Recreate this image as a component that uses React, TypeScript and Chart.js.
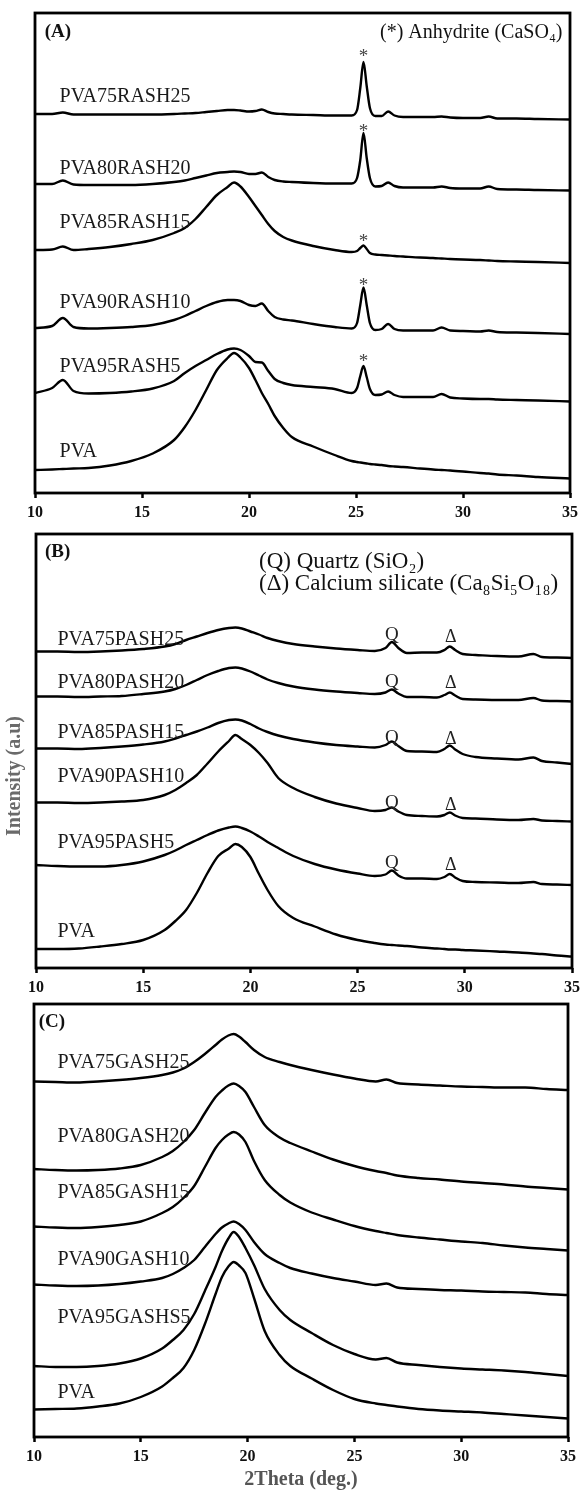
import React, { useEffect, useRef } from "react";
import { Chart, registerables } from "chart.js";

Chart.register(...registerables);

// ---------------- Panel A : RASH ----------------
const xA = [10, 10.8, 11.3, 11.8, 12.5, 13.5, 14.5, 15.5, 16.5, 17, 17.5, 18, 18.5, 19, 19.3, 19.6, 20, 20.3, 20.6, 20.9, 21.2, 21.6, 22, 23, 24, 24.8, 25.05, 25.2, 25.35, 25.5, 25.65, 25.9, 26.2, 26.5, 26.8, 27.2, 28, 28.6, 29, 29.4, 30, 30.8, 31.2, 31.6, 32.5, 33.5, 35];
const rash25 = [379, 379, 380.5, 378.5, 378.5, 378.5, 378.5, 378.5, 379, 379.5, 380, 381, 382, 383, 383, 382.5, 381.5, 382, 383.5, 381, 379.5, 379, 378.5, 378, 377.5, 377.5, 383, 405, 431, 407, 385, 377, 377, 381.5, 377.5, 376, 376, 376, 376.5, 375.5, 375, 375, 376.5, 374.5, 374.5, 374, 373.5];
const rash20 = [309, 309, 312.5, 308.5, 308, 308, 308, 309, 311, 312.5, 315, 317.5, 320, 321, 321.5, 321, 319, 319, 320.5, 316, 313, 311.5, 311, 310, 309.5, 309.5, 315, 333, 360, 335, 315, 306.5, 307, 310.5, 307, 305.5, 305.5, 305.5, 306.5, 305, 304.5, 304.5, 306.5, 304, 303.5, 303, 302.5];
const rash15 = [243, 243.5, 246.5, 243, 244, 246, 249, 253, 260, 265, 274, 286, 298, 306, 310.5, 306.5, 296, 287, 278, 269, 262, 256, 252.5, 247, 243, 241, 242, 245, 247.5, 244, 240, 238.5, 238, 237.5, 237, 236.5, 235.5, 235, 234.5, 234, 233.5, 233, 232.5, 232, 231.5, 231, 230];
const rash10 = [165, 167, 175, 166, 164.5, 165, 166, 168, 173, 177, 182, 187, 191, 193, 193, 192, 188, 187, 189.5, 182, 176, 173.5, 172.5, 169, 166, 164.5, 170, 188, 205.5, 188, 170, 163, 164, 169, 164, 162.5, 162.5, 162.5, 165.5, 162.5, 162, 161.5, 162.5, 161, 160.5, 160, 159];
const rash5 = [100, 105, 113, 102, 99.5, 100, 101.5, 104.5, 112, 120, 127, 133, 139, 143.5, 144.5, 143, 137, 131, 130.5, 122, 114, 110, 108, 106, 104, 100, 105, 117, 127, 116, 104, 98, 98.5, 101.5, 98, 96, 96, 96, 99, 95.5, 94.5, 94, 94, 93.5, 93, 92.5, 91.5];
const pvaA = [23, 23.5, 24, 24.5, 25, 27.5, 32, 39.5, 53, 66, 83, 103, 123, 135, 140, 135.5, 125, 113, 100, 89, 77, 65, 56, 46.5, 38, 32, 31, 30.5, 30, 29.5, 29, 28.5, 28, 27, 26.5, 26, 24.5, 23.5, 23, 22.5, 21.5, 20, 19.5, 18.5, 17.5, 16, 14.5];
const namesA = ["PVA75RASH25", "PVA80RASH20", "PVA85RASH15", "PVA90RASH10", "PVA95RASH5", "PVA"];
const labelYA = [396, 324, 270, 190, 126, 41];
const starYA = [436, 361, 251, 207, 131];
const starXA = 25.35;

// ---------------- Panel B : PASH ----------------
const xB = [10, 11, 12, 13, 14, 15, 16, 16.5, 17, 17.5, 18, 18.5, 19, 19.3, 19.6, 20, 20.4, 20.8, 21.3, 22, 23, 24, 25, 25.8, 26.3, 26.6, 26.9, 27.3, 28, 28.7, 29.05, 29.3, 29.55, 29.9, 30.5, 31.5, 32.5, 33.2, 33.6, 34.3, 35];
const pash25 = [316.5, 316.5, 316, 316.5, 317.5, 319, 321.5, 324, 328, 331.5, 335, 338, 340, 340.5, 339.5, 336.5, 333.5, 330, 327, 324, 321.5, 319.5, 318, 317, 320, 326, 320, 315, 315.5, 315.5, 318, 321.5, 318, 314, 313, 312, 311.5, 314, 311, 310.5, 310];
const pash20 = [271.5, 271.5, 271, 271.5, 272, 274, 276.5, 279, 283, 288, 293, 297, 300, 300.5, 299.5, 296.5, 292.5, 288.5, 285, 281.5, 278.5, 276.5, 275, 274, 275.5, 278.5, 274.5, 271, 271, 270.5, 273, 275.5, 272.5, 269, 268.5, 268, 268, 270, 267.5, 267, 266.5];
const pash15 = [219.5, 219.5, 219, 220, 221.5, 223.5, 226.5, 229.5, 233, 236.5, 240.5, 245, 248, 248.5, 247.5, 244, 239.5, 236, 232.5, 229, 225.5, 223, 221.5, 220.5, 223, 226.5, 222, 217, 216.5, 216, 219, 222.5, 218.5, 214, 211, 209.5, 208.5, 210.5, 207, 205.5, 204];
const pash10 = [165.5, 165.5, 165, 165.5, 166.5, 168, 173, 178, 185, 193, 204.5, 216.5, 227, 233, 229, 223, 215, 205, 190, 180, 171, 164.5, 160, 157, 158, 160.5, 156.5, 153, 152, 151.5, 153, 155.5, 152.5, 150, 149.5, 148.5, 148, 149, 147.5, 147, 146.5];
const pash5 = [103, 102, 101.5, 101.5, 103, 106.5, 113, 117.5, 123, 128, 133, 137.5, 140.5, 141.5, 140, 136.5, 131.5, 126, 120, 112, 104, 98.5, 94.5, 92, 93.5, 97.5, 92.5, 89.5, 89.5, 89, 91, 94, 90.5, 87, 86, 85.5, 85, 86, 84, 83.5, 83];
const pvaB = [19, 19, 19.5, 21.5, 24, 28, 38, 47, 58, 75, 95, 112, 119.5, 124, 121, 111, 94, 78, 62, 50, 41.5, 33.5, 28, 25, 23.5, 23, 22.5, 22, 20.5, 19.5, 19, 18.5, 18.5, 18, 17.5, 16.5, 15.5, 14.5, 14, 12.5, 11.5];
const namesB = ["PVA75PASH25", "PVA80PASH20", "PVA85PASH15", "PVA90PASH10", "PVA95PASH5", "PVA"];
const labelYB = [328, 285, 235, 191, 125, 36];
const quartzYB = [333, 286, 230, 165, 105];
const silicateYB = [331, 285, 229, 163, 103];
const quartzX = 26.6;
const silicateX = 29.35;

// ---------------- Panel C : GASH ----------------
const xC = [10, 11, 12, 13, 14, 15, 16, 16.5, 17, 17.5, 18, 18.5, 18.8, 19.1, 19.35, 19.6, 19.9, 20.3, 20.8, 21.5, 22, 23, 24, 25, 26, 26.5, 27, 28, 29, 30, 31, 32, 33, 34, 35];
const gash25 = [355.5, 355, 354.5, 355.5, 357, 359, 362, 364.5, 368.5, 375, 383, 392, 397.5, 401.5, 403, 400.5, 395, 387, 380, 375, 372, 367, 362.5, 358.5, 355.5, 357.5, 354, 352.5, 351.5, 350.5, 350, 349.5, 349.5, 348, 347];
const gash20 = [268, 267, 266.5, 267, 268.5, 272, 280, 286, 295, 307, 324, 340, 346.5, 351.5, 353.5, 351, 345, 330, 312, 299.5, 294, 285.5, 277.5, 271, 266, 264, 261.5, 259, 257.5, 255.5, 254, 252.5, 250.5, 249, 247.5];
const gash15 = [210.5, 209.5, 209, 210, 212, 215.5, 224, 230, 239, 251, 270, 289, 297, 302.5, 305, 302.5, 295, 276, 257, 242, 234.5, 224.5, 217.5, 211, 206, 204, 202, 199.5, 197.5, 195.5, 194, 191.5, 189.5, 188, 186.5];
const gash10 = [152.5, 151.5, 151, 151.5, 153, 155.5, 159, 163, 169, 177, 190, 203, 209.5, 213.5, 215.5, 213, 207, 195, 183, 174, 169, 163.5, 159, 155.5, 152, 153.5, 149.5, 148, 147, 146.5, 145.5, 145, 144.5, 143, 142];
const gash5 = [71, 70, 70, 71, 73.5, 78.5, 88.5, 97, 107, 123, 146, 170, 186, 198.5, 205, 200, 189, 172, 148, 127, 117, 104, 92, 83, 77.5, 79, 74.5, 72, 70, 68.5, 67.5, 66.5, 65, 63, 61];
const pvaC = [27.5, 28, 28.5, 30.5, 33.5, 40, 50.5, 59, 69, 87, 113, 143, 160, 170.5, 175, 171.5, 164, 139, 106, 82, 71, 58.5, 47, 38, 33.5, 32, 30.5, 28, 26.5, 25.5, 24.5, 23, 21.5, 20, 18.5];
const namesC = ["PVA75GASH25", "PVA80GASH20", "PVA85GASH15", "PVA90GASH10", "PVA95GASHS5", "PVA"];
const labelYC = [374, 300, 244, 177, 119, 44];

// ---------------- shared text ----------------
const xTickValues = [10, 15, 20, 25, 30, 35];
const xAxisTitle = "2Theta (deg.)";
const yAxisTitle = "Intensity (a.u)";

type TextItem = { text: string; x: number; y: number; font: string; color?: string; align?: CanvasTextAlign };

type PanelSpec = {
  xs: number[];
  series: number[][];
  yMax: number;
  texts: TextItem[];
  top: number;
  height: number;
  padding: { left: number; right: number; top: number; bottom: number };
  xHeight: number;
  yTitle?: string;
  yWidth?: number;
  xTitle?: string;
};

const SERIF = "'Liberation Serif', 'Times New Roman', serif";
const labelFont = `20px ${SERIF}`;
const letterFont = `bold 19px ${SERIF}`;

function curveLabels(names: string[], ys: number[], x: number): TextItem[] {
  return names.map((n, i) => ({ text: n, x, y: ys[i], font: labelFont, color: "#1a1a1a" }));
}

function markers(sym: string, x: number, ys: number[], font: string, color: string): TextItem[] {
  return ys.map((y) => ({ text: sym, x, y, font, color, align: "center" as CanvasTextAlign }));
}

const panels: PanelSpec[] = [
  {
    xs: xA,
    series: [rash25, rash20, rash15, rash10, rash5, pvaA],
    yMax: 480,
    top: 0,
    height: 530,
    padding: { left: 35, right: 15, top: 13, bottom: 7 },
    xHeight: 30,
    texts: [
      ...curveLabels(namesA, labelYA, 11.15),
      ...markers("*", starXA, starYA, `19px ${SERIF}`, "#444"),
      { text: "(A)", x: 10.45, y: 461, font: letterFont },
      { text: "(*) Anhydrite (CaSO\u2084)", x: 34.65, y: 460, font: `20px ${SERIF}`, align: "right" },
    ],
  },
  {
    xs: xB,
    series: [pash25, pash20, pash15, pash10, pash5, pvaB],
    yMax: 434,
    top: 530,
    height: 470,
    padding: { left: 0, right: 13, top: 4, bottom: 2 },
    xHeight: 30,
    yTitle: yAxisTitle,
    yWidth: 36,
    texts: [
      ...curveLabels(namesB, labelYB, 11.0),
      ...markers("Q", quartzX, quartzYB, `19px ${SERIF}`, "#222"),
      ...markers("\u0394", silicateX, silicateYB, `18px ${SERIF}`, "#222"),
      { text: "(B)", x: 10.42, y: 416, font: letterFont },
      { text: "(Q) Quartz (SiO\u2082)", x: 20.4, y: 406, font: `23px ${SERIF}` },
      { text: "(\u0394) Calcium silicate (Ca\u2088Si\u2085O\u2081\u2088)", x: 20.4, y: 384.5, font: `23px ${SERIF}` },
    ],
  },
  {
    xs: xC,
    series: [gash25, gash20, gash15, gash10, gash5, pvaC],
    yMax: 433,
    top: 1000,
    height: 492,
    padding: { left: 34, right: 17, top: 4, bottom: 0 },
    xHeight: 55,
    xTitle: xAxisTitle,
    texts: [
      ...curveLabels(namesC, labelYC, 11.1),
      { text: "(C)", x: 10.22, y: 415, font: letterFont },
    ],
  },
];

function makeDecor(texts: TextItem[]) {
  return {
    id: "panelDecor",
    afterDatasetsDraw(chart: any) {
      const { ctx, chartArea, scales } = chart;
      const { left, top, right, bottom } = chartArea;
      ctx.save();
      ctx.lineWidth = 2.8;
      ctx.strokeStyle = "#000";
      ctx.strokeRect(left, top, right - left, bottom - top);
      for (const t of texts) {
        ctx.font = t.font;
        ctx.fillStyle = t.color || "#111";
        ctx.textAlign = t.align || "left";
        ctx.textBaseline = "middle";
        ctx.fillText(t.text, scales.x.getPixelForValue(t.x), scales.y.getPixelForValue(t.y));
      }
      ctx.restore();
    },
  };
}

function Panel({ spec }: { spec: PanelSpec }) {
  const ref = useRef<HTMLCanvasElement | null>(null);
  useEffect(() => {
    if (!ref.current) return;
    const datasets = spec.series.map((ys) => ({
      data: spec.xs.map((x, i) => ({ x, y: ys[i] })),
      borderColor: "#000",
      borderWidth: 2.4,
      pointRadius: 0,
      fill: false,
      cubicInterpolationMode: "monotone" as const,
    }));
    const yScale: any = spec.yTitle
      ? {
          display: true,
          min: 0,
          max: spec.yMax,
          afterFit: (s: any) => {
            s.width = spec.yWidth;
          },
          ticks: { display: false },
          grid: { display: false },
          border: { display: false },
          title: {
            display: true,
            text: spec.yTitle + "          ",
            color: "#6a6a6a",
            font: { family: SERIF, size: 20, weight: "bold" },
            padding: { top: 3, bottom: 0 },
          },
        }
      : { display: false, min: 0, max: spec.yMax };
    const chart = new Chart(ref.current, {
      type: "line",
      data: { datasets },
      plugins: [makeDecor(spec.texts)],
      options: {
        animation: false,
        responsive: false,
        maintainAspectRatio: false,
        events: [],
        layout: { padding: spec.padding },
        plugins: { legend: { display: false }, tooltip: { enabled: false } },
        scales: {
          x: {
            type: "linear",
            min: 10,
            max: 35,
            afterFit: (s: any) => {
              s.height = spec.xHeight;
            },
            afterBuildTicks: (s: any) => {
              s.ticks = xTickValues.map((v) => ({ value: v }));
            },
            ticks: {
              color: "#111",
              font: { family: SERIF, size: 16, weight: "bold" },
              padding: 5,
              maxRotation: 0,
              autoSkip: false,
            },
            grid: {
              display: true,
              drawOnChartArea: false,
              drawTicks: true,
              tickLength: 5,
              tickWidth: 2.5,
              tickColor: "#000",
            },
            border: { display: false },
            title: spec.xTitle
              ? {
                  display: true,
                  text: spec.xTitle,
                  color: "#555",
                  font: { family: SERIF, size: 20, weight: "bold" },
                  padding: { top: 0, bottom: 0 },
                }
              : { display: false },
          },
          y: yScale,
        },
      } as any,
    });
    return () => chart.destroy();
  }, [spec]);
  return (
    <canvas
      ref={ref}
      width={585}
      height={spec.height}
      style={{ position: "absolute", left: 0, top: spec.top, width: 585, height: spec.height }}
    />
  );
}

export default function App() {
  return (
    <div style={{ position: "absolute", left: 0, top: 0, width: 585, height: 1492, background: "#fff" }}>
      {panels.map((p, i) => (
        <Panel key={i} spec={p} />
      ))}
    </div>
  );
}
